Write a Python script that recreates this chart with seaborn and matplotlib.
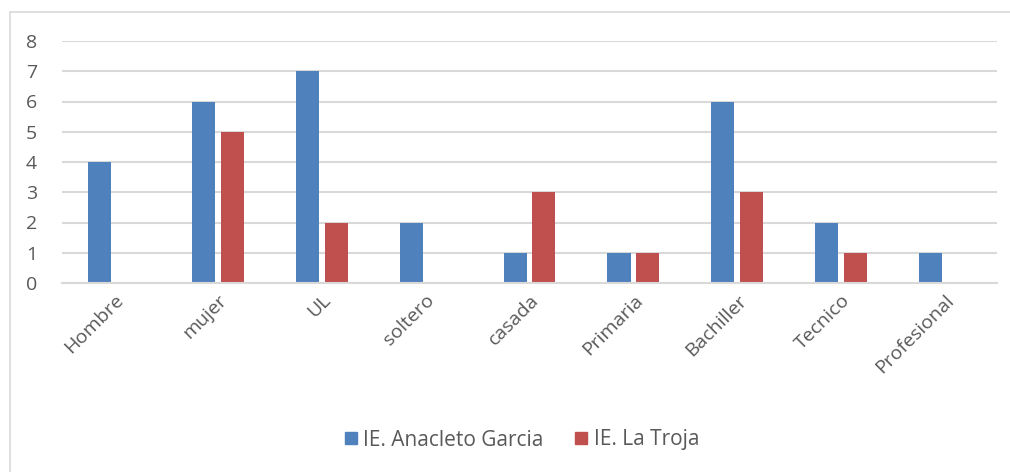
import pandas as pd
import matplotlib.pyplot as plt
import seaborn as sns
from matplotlib.lines import Line2D

categories = ["Hombre", "mujer", "UL", "soltero", "casada",
              "Primaria", "Bachiller", "Tecnico", "Profesional"]
anacleto = [4, 6, 7, 2, 1, 1, 6, 2, 1]
la_troja = [0, 5, 2, 0, 3, 1, 3, 1, 0]
series_names = ["IE. Anacleto Garcia", "IE. La Troja"]
colors = ["#4f81bd", "#c0504d"]

data = pd.DataFrame({
    "categoria": categories * 2,
    "valor": anacleto + la_troja,
    "serie": [series_names[0]] * len(categories) + [series_names[1]] * len(categories),
})

sns.set_style("white")
plt.rcParams["font.family"] = ["Open Sans", "DejaVu Sans"]
text_color = "#595959"
grid_color = "#d9d9d9"

fig = plt.figure(figsize=(10.1, 4.72), dpi=100)
ax = fig.add_axes([62 / 1010, 1 - 283 / 472, (997 - 62) / 1010, (283 - 41) / 472])

sns.barplot(data=data, x="categoria", y="valor", hue="serie",
            palette=colors, width=0.556, gap=0.2, ax=ax, legend=False,
            saturation=1, linewidth=0)

ax.set_ylim(0, 8)
ax.set_xlim(-0.5, len(categories) - 0.5)
ax.set_yticks(range(0, 9))
ax.yaxis.grid(True, color=grid_color, linewidth=1.5)
ax.set_axisbelow(True)
for s in ["left", "right", "top"]:
    ax.spines[s].set_visible(False)
ax.spines["bottom"].set_color(grid_color)
ax.spines["bottom"].set_linewidth(1.5)
ax.set_xlabel("")
ax.set_ylabel("")
ax.tick_params(axis="both", length=0, colors=text_color, labelsize=14)
ax.tick_params(axis="y", pad=18)
plt.setp(ax.get_xticklabels(), rotation=45, ha="right", rotation_mode="anchor")
ax.tick_params(axis="x", pad=6)

handles = [Line2D([0], [0], marker="s", linestyle="", markersize=9,
                  markerfacecolor=c, markeredgecolor=c) for c in colors]
fig.legend(handles, series_names, loc="center", bbox_to_anchor=(522 / 1010, 1 - 440 / 472),
           ncol=2, frameon=False, fontsize=15, labelcolor=text_color,
           handletextpad=0.3, columnspacing=1.5, handlelength=0.6)

# outer chart border (top and left edges visible)
fig.add_artist(Line2D([10 / 1010, 10 / 1010], [0, 1 - 12 / 472], transform=fig.transFigure,
                      color=grid_color, linewidth=1.2))
fig.add_artist(Line2D([10 / 1010, 1], [1 - 12 / 472, 1 - 12 / 472], transform=fig.transFigure,
                      color=grid_color, linewidth=1.2))

fig.savefig("out.png", dpi=100)
